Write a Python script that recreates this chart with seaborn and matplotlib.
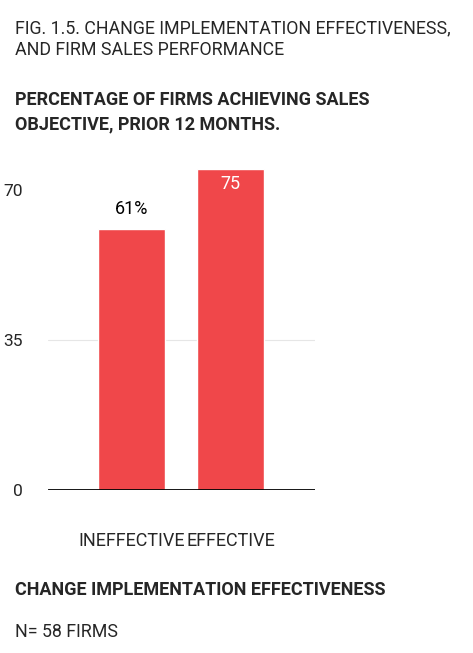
import matplotlib
matplotlib.use("Agg")
import matplotlib.pyplot as plt
import seaborn as sns
import pandas as pd

categories = ["INEFFECTIVE", "EFFECTIVE"]
values = [61, 75]
labels = ["61%", "75"]
yticks = [0, 35, 70]

sns.set_style("white")
plt.rcParams['font.family'] = ['Roboto', 'DejaVu Sans']

W, H = 473, 653
fig = plt.figure(figsize=(W/100, H/100), dpi=100)
ax = fig.add_axes([48/W, 1-490/H, (315-48)/W, (490-160)/H])
df = pd.DataFrame({"cat": categories, "val": values})
sns.barplot(data=df, x="cat", y="val", color="#f0474a", saturation=1, width=0.677, ax=ax, zorder=2)
ax.set_ylim(0, 77.1)
ax.set_xlim(-0.843, 1.853)
ax.axhline(35, color="#e6e6e6", lw=0.8, zorder=1)
ax.axhline(0, color="black", lw=2, zorder=3)
for s in ax.spines.values():
    s.set_visible(False)
ax.set_yticks(yticks)
ax.set_yticklabels([str(t) for t in yticks], fontsize=12.5)
ax.tick_params(axis='y', length=0, pad=18)
ax.tick_params(axis='x', length=0, pad=30, labelsize=13)
ax.set_xlabel(""); ax.set_ylabel("")
ax.text(0, values[0] + 2.5, labels[0], ha="center", va="bottom", fontsize=13, color="black")
ax.text(1, values[1] - 1.5, labels[1], ha="center", va="top", fontsize=13, color="white")

fig.text(15/W, 1-28/H, "FIG. 1.5. CHANGE IMPLEMENTATION EFFECTIVENESS,", fontsize=12.8, va="center")
fig.text(15/W, 1-50/H, "AND FIRM SALES PERFORMANCE", fontsize=12.8, va="center")
fig.text(15/W, 1-100/H, "PERCENTAGE OF FIRMS ACHIEVING SALES", fontsize=13, weight="bold", va="center")
fig.text(15/W, 1-124/H, "OBJECTIVE, PRIOR 12 MONTHS.", fontsize=13, weight="bold", va="center")
fig.text(15/W, 1-590/H, "CHANGE IMPLEMENTATION EFFECTIVENESS", fontsize=13, weight="bold", va="center")
fig.text(15/W, 1-632/H, "N= 58 FIRMS", fontsize=12.8, va="center")
fig.savefig("out.png", dpi=100)
